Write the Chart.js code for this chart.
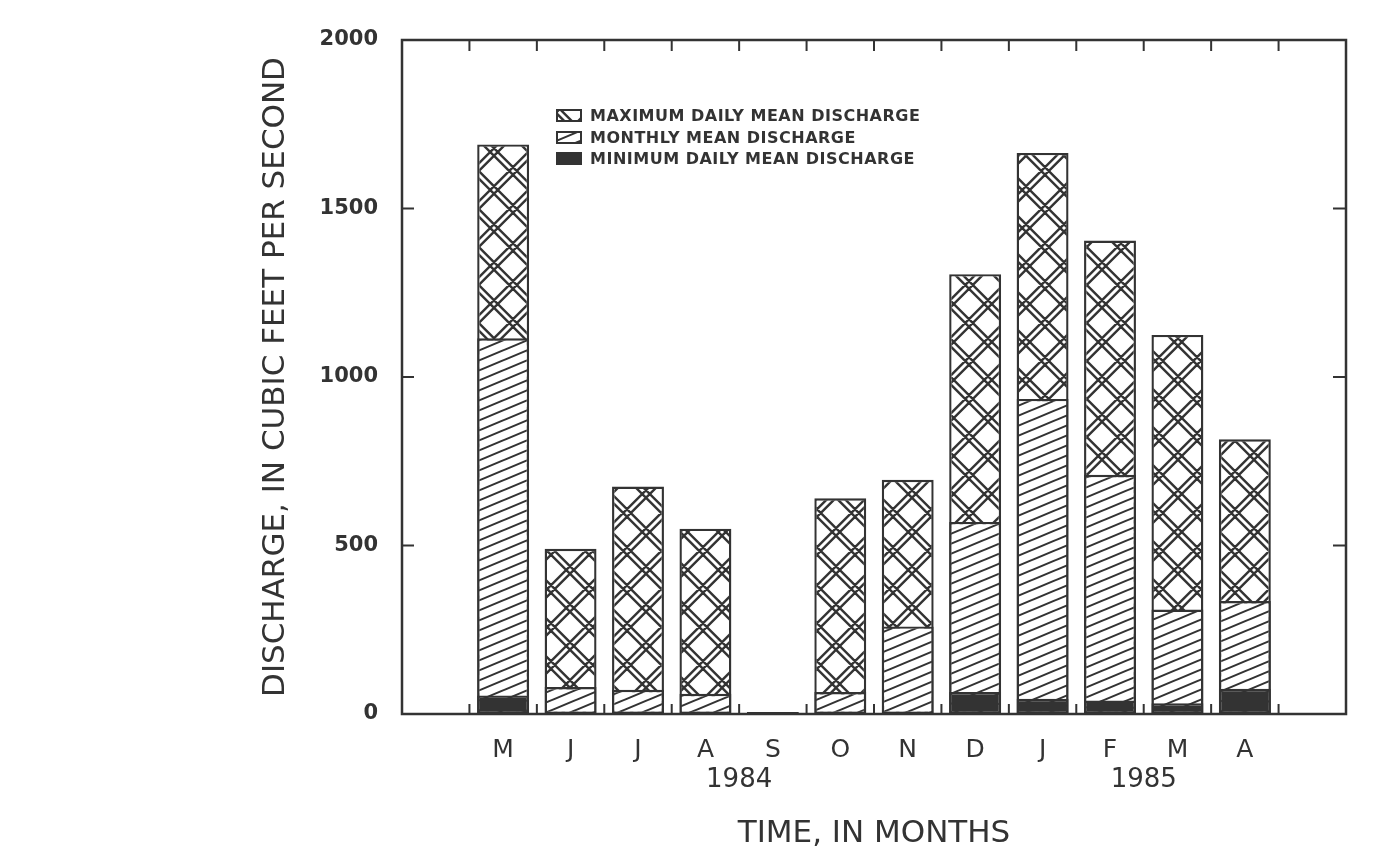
<!DOCTYPE html>
<html>
<head>
<meta charset="utf-8">
<script src="https://cdn.jsdelivr.net/npm/chart.js@4.4.1/dist/chart.umd.min.js"></script>
<style>
  body { margin: 0; background: #fff; }
  #wrap { position: relative; width: 1379px; height: 863px; }
  #legend { position: absolute; left: 556px; top: 105px; font: bold 16px "DejaVu Sans"; letter-spacing: 0.5px; color: #333; }
  #legend .row { display: flex; align-items: center; height: 21.5px; }
  #legend canvas { margin-right: 8px; }
</style>
</head>
<body>
<div id="wrap">
  <canvas id="chart" width="1379" height="863"></canvas>
  <div id="legend"></div>
</div>
<script>
// months shown on the axis, blank slots at both ends
const months = ['', 'M', 'J', 'J', 'A', 'S', 'O', 'N', 'D', 'J', 'F', 'M', 'A', ''];
const maxDaily = [null, 1690, 490, 675, 550, 6, 640, 695, 1305, 1665, 1405, 1125, 815, null];
const monthlyMean = [null, 1115, 80, 72, 60, 4, 65, 260, 570, 935, 710, 310, 335, null];
const minDaily = [null, 55, 3, 3, 3, 2, 3, 4, 65, 45, 40, 32, 75, null];
const seriesNames = ['MAXIMUM DAILY MEAN DISCHARGE', 'MONTHLY MEAN DISCHARGE', 'MINIMUM DAILY MEAN DISCHARGE'];
// years sit on month boundaries: half-month slots, 1984 after A, 1985 after F
const yearSlots = ['', '', '', '', '', '', '', '', '', '', '1984', '', '', '', '',
                   '', '', '', '', '', '', '', '1985', '', '', '', '', '', ''];

const INK = '#333';

// crosshatch made of double lines
function crossHatch() {
    const s = 38;
    const c = document.createElement('canvas');
    c.width = s; c.height = s;
    const g = c.getContext('2d');
    g.fillStyle = '#fff';
    g.fillRect(0, 0, s, s);
    g.strokeStyle = INK;
    g.lineWidth = 2.4;
    g.beginPath();
    for (let k = -1; k <= 2; k++) {
        for (const d of [-3.8, 3.8]) {
            const o = k * s + d;
            g.moveTo(-5, -5 + o); g.lineTo(s + 5, s + 5 + o);
            g.moveTo(-5, o + 5); g.lineTo(s + 5, o - s - 5);
        }
    }
    g.stroke();
    return g.createPattern(c, 'repeat');
}

// single diagonal hatch, rising to the right
function diagHatch() {
    const w = 24, h = 10;
    const c = document.createElement('canvas');
    c.width = w; c.height = h;
    const g = c.getContext('2d');
    g.fillStyle = '#fff';
    g.fillRect(0, 0, w, h);
    g.strokeStyle = INK;
    g.lineWidth = 2;
    g.beginPath();
    for (let k = -1; k <= 1; k++) {
        g.moveTo(-w, 2 * h + k * h); g.lineTo(2 * w, -h + k * h);
    }
    g.stroke();
    return g.createPattern(c, 'repeat');
}

const fills = [crossHatch(), diagHatch(), INK];

// frame around the plot with inward tick marks
const framePlugin = {
    id: 'frame',
    afterDatasetsDraw(chart) {
        const { ctx, chartArea: a, scales } = chart;
        const x = scales.x, y = scales.y;
        ctx.save();
        ctx.strokeStyle = INK;
        ctx.lineWidth = 2.5;
        ctx.strokeRect(a.left, a.top, a.right - a.left, a.bottom - a.top);
        ctx.lineWidth = 2;
        ctx.beginPath();
        for (let i = 1; i < months.length; i++) {
            const px = (x.getPixelForValue(i - 1) + x.getPixelForValue(i)) / 2;
            ctx.moveTo(px, a.top); ctx.lineTo(px, a.top + 11);
            ctx.moveTo(px, a.bottom); ctx.lineTo(px, a.bottom - 10);
        }
        y.ticks.forEach(t => {
            if (t.value <= y.min || t.value >= y.max) return;
            const py = y.getPixelForValue(t.value);
            ctx.moveTo(a.left, py); ctx.lineTo(a.left + 12, py);
            ctx.moveTo(a.right, py); ctx.lineTo(a.right - 13, py);
        });
        ctx.stroke();
        ctx.restore();
    }
};

const barStyle = {
    xAxisID: 'x',
    borderColor: INK,
    borderWidth: 2.4,
    borderSkipped: false,
    barPercentage: 0.77,
    categoryPercentage: 1
};

new Chart(document.getElementById('chart'), {
    type: 'bar',
    data: {
        labels: months,
        datasets: [
            { ...barStyle, label: seriesNames[0], data: maxDaily, backgroundColor: fills[0], order: 2 },
            { ...barStyle, label: seriesNames[1], data: monthlyMean, backgroundColor: fills[1], order: 1 },
            { ...barStyle, label: seriesNames[2], data: minDaily, backgroundColor: fills[2], order: 0 }
        ]
    },
    options: {
        responsive: false,
        animation: false,
        devicePixelRatio: 1,
        layout: { padding: { left: 250, top: 40, right: 33, bottom: 0 } },
        plugins: {
            legend: { display: false },
            tooltip: { enabled: false }
        },
        scales: {
            x: {
                stacked: true,
                offset: true,
                weight: 0,
                grid: { display: false, drawTicks: false },
                border: { display: false },
                ticks: {
                    autoSkip: false,
                    maxRotation: 0,
                    padding: 21,
                    color: INK,
                    font: { family: 'DejaVu Sans', size: 25 }
                },
                afterFit: s => { s.height = 50; }
            },
            years: {
                type: 'category',
                labels: yearSlots,
                position: 'bottom',
                offset: false,
                weight: 1,
                grid: { display: false, drawTicks: false },
                border: { display: false },
                ticks: {
                    autoSkip: false,
                    maxRotation: 0,
                    padding: 1,
                    color: INK,
                    font: { family: 'DejaVu Sans', size: 26 }
                },
                title: {
                    display: true,
                    text: 'TIME, IN MONTHS',
                    color: INK,
                    font: { family: 'DejaVu Sans', size: 31 },
                    padding: { top: 0, bottom: 10 }
                },
                afterFit: s => { s.height = 99; }
            },
            y: {
                stacked: false,
                min: 0,
                max: 2000,
                grid: { display: false, drawTicks: false },
                border: { display: false },
                ticks: {
                    stepSize: 500,
                    padding: 24,
                    color: INK,
                    font: { family: 'DejaVu Sans', size: 21, weight: 'bold' },
                    callback: v => String(v)
                },
                title: {
                    display: true,
                    text: 'DISCHARGE, IN CUBIC FEET PER SECOND',
                    color: INK,
                    font: { family: 'DejaVu Sans', size: 31 },
                    padding: { top: 7, bottom: 0 }
                },
                afterFit: s => { s.width = 152; }
            }
        }
    },
    plugins: [framePlugin]
});

// legend drawn as html, swatches use the same fills
const legend = document.getElementById('legend');
seriesNames.forEach((name, i) => {
    const row = document.createElement('div');
    row.className = 'row';
    const sw = document.createElement('canvas');
    sw.width = 26; sw.height = 13;
    const g = sw.getContext('2d');
    g.fillStyle = fills[i];
    g.fillRect(0, 0, 26, 13);
    g.strokeStyle = INK;
    g.lineWidth = 2;
    g.strokeRect(1, 1, 24, 11);
    row.appendChild(sw);
    const t = document.createElement('span');
    t.textContent = name;
    row.appendChild(t);
    legend.appendChild(row);
});
</script>
</body>
</html>
